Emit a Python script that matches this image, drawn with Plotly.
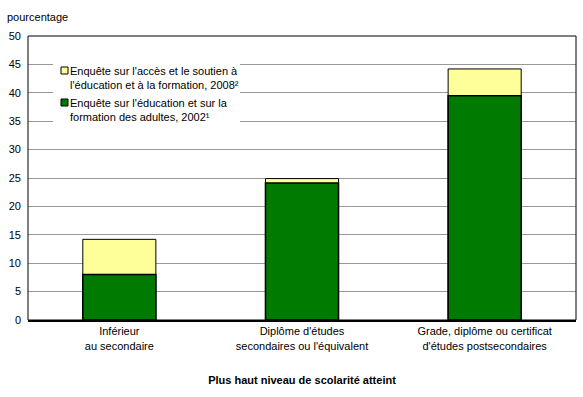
import plotly.graph_objects as go

categories = ["Inférieur<br>au secondaire",
              "Diplôme d'études<br>secondaires ou l'équivalent",
              "Grade, diplôme ou certificat<br>d'études postsecondaires"]
vals_2008 = [14.2, 24.9, 44.2]
vals_2002 = [8.0, 24.1, 39.5]
name_2008 = "Enquête sur l'accès et le soutien à<br>l'éducation et à la formation, 2008²"
name_2002 = "Enquête sur l'éducation et sur la<br>formation des adultes, 2002¹"
color_2008 = "#FFFF99"
color_2002 = "#007A00"
y_ticks = [0, 5, 10, 15, 20, 25, 30, 35, 40, 45, 50]

FONT = "Liberation Sans, Arial, sans-serif"

# plot area in pixels
L, R, T, B = 28, 576, 36, 320
PW, PH = R - L, B - T


def px(x):
    return (x - L) / PW


def py(y):
    return (B - y) / PH


fig = go.Figure()
fig.add_trace(go.Bar(x=categories, y=vals_2008, name=name_2008,
                     marker=dict(color=color_2008, line=dict(color="black", width=1)),
                     width=0.4, showlegend=False))
fig.add_trace(go.Bar(x=categories, y=vals_2002, name=name_2002,
                     marker=dict(color=color_2002, line=dict(color="black", width=1.5)),
                     width=0.4, showlegend=False))

shapes = [
    # legend background
    dict(type="rect", xref="paper", yref="paper", x0=px(53), x1=px(240), y0=py(128), y1=py(59),
         fillcolor="white", line=dict(width=0), layer="above"),
    dict(type="rect", xref="paper", yref="paper", x0=px(61), x1=px(68), y0=py(74), y1=py(67),
         fillcolor=color_2008, line=dict(color="black", width=1), layer="above"),
    dict(type="rect", xref="paper", yref="paper", x0=px(61), x1=px(68), y0=py(106), y1=py(99),
         fillcolor=color_2002, line=dict(color="black", width=1), layer="above"),
    # plot frame
    dict(type="rect", xref="paper", yref="paper", x0=0, x1=1, y0=0, y1=1,
         line=dict(color="black", width=1), layer="above"),
]

annotations = [
    dict(text="pourcentage", xref="paper", yref="paper",
         x=px(5), y=py(17), xanchor="left", yanchor="middle",
         showarrow=False, font=dict(size=11)),
    dict(text=name_2008, xref="paper", yref="paper", x=px(68), y=py(63),
         xanchor="left", yanchor="top", align="left", showarrow=False,
         font=dict(size=11)),
    dict(text=name_2002, xref="paper", yref="paper", x=px(68), y=py(95),
         xanchor="left", yanchor="top", align="left", showarrow=False,
         font=dict(size=11)),
]

fig.update_layout(
    width=583, height=397,
    margin=dict(l=L, r=583 - R, t=T, b=397 - B),
    barmode="overlay",
    plot_bgcolor="white", paper_bgcolor="white",
    font=dict(family=FONT, size=11, color="black"),
    showlegend=False,
    xaxis=dict(showline=True, linecolor="black", linewidth=2,
               ticks="", tickfont=dict(size=11),
               title=dict(text="<b>Plus haut niveau de scolarité atteint</b>",
                          font=dict(size=11), standoff=26)),
    yaxis=dict(range=[0, 50], tickvals=y_ticks, showgrid=True,
               gridcolor="#999999", gridwidth=1, zeroline=False,
               showline=False, ticks="", tickfont=dict(size=11),
               ticklabelstandoff=6),
    shapes=shapes,
    annotations=annotations,
)

fig.write_html("out.html")
